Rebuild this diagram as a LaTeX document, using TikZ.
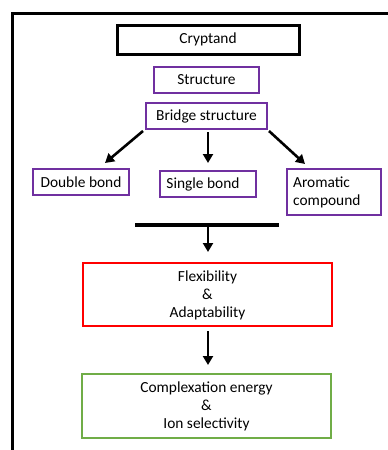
\documentclass[tikz,border=0pt]{standalone}
\usepackage{fontspec}
\setmainfont{Carlito}
\usetikzlibrary{arrows.meta}
\definecolor{opurple}{HTML}{7030A0}
\definecolor{ogreen}{HTML}{70AD47}
\begin{document}
\begin{tikzpicture}[x=1pt,y=-1pt,
  boxp/.style={draw=opurple,line width=2.8pt},
  arr/.style={line width=2.6pt,-{Triangle[length=9pt,width=10pt]}},
  lbl/.style={font=\fontsize{15.4}{18}\selectfont,align=center,inner sep=0pt}]
\useasboundingbox (0,0) rectangle (388,450);
\draw[line width=3pt] (12,452) -- (12,13) -- (390,13);
% boxes
\draw[line width=3pt] (117,25) rectangle (299,54);
\node[lbl] (cry) at (208,39.5) {Cryptand};
\draw[boxp] (154,67) rectangle (259,93);
\node[lbl] (str) at (206.5,80) {Structure};
\draw[boxp] (146,103) rectangle (267,129);
\node[lbl] (bri) at (206.5,116) {Bridge structure};
\draw[boxp] (33,169) rectangle (129,195);
\node[lbl] (dbl) at (81,182) {Double bond};
\draw[boxp] (160,171) rectangle (256,197);
\node[lbl] (sgl) at (203,184) {Single bond};
\draw[boxp] (287,169) rectangle (381,215);
\node[lbl,align=left,anchor=west] (aro) at (293,192) {Aromatic\\compound};
\coordinate (bl) at (143,131); \coordinate (bm) at (208,132); \coordinate (br) at (269,131);
\coordinate (dl) at (105,163); \coordinate (dm) at (208,163); \coordinate (dr) at (305,164);
\draw[arr] (bl) -- (dl);
\draw[arr] (bm) -- (dm);
\draw[arr] (br) -- (dr);
\coordinate (barl) at (135,225); \coordinate (barr) at (279,225); \coordinate (barm) at (208,225);
\draw[line width=3.5pt] (barl) -- (barr);
\coordinate (rt) at (208,252);
\draw[arr] (barm) -- (rt);
\draw[draw=red,line width=2.8pt] (83,263) rectangle (332,326);
\node[lbl] (flex) at (207.5,295) {Flexibility\\\&\\Adaptability};
\coordinate (rb) at (208,331); \coordinate (gt) at (208,365);
\draw[arr] (rb) -- (gt);
\draw[draw=ogreen,line width=2.8pt] (82,374) rectangle (331,438);
\node[lbl] (comp) at (206.5,406) {Complexation energy\\\&\\Ion selectivity};
\end{tikzpicture}
\end{document}
